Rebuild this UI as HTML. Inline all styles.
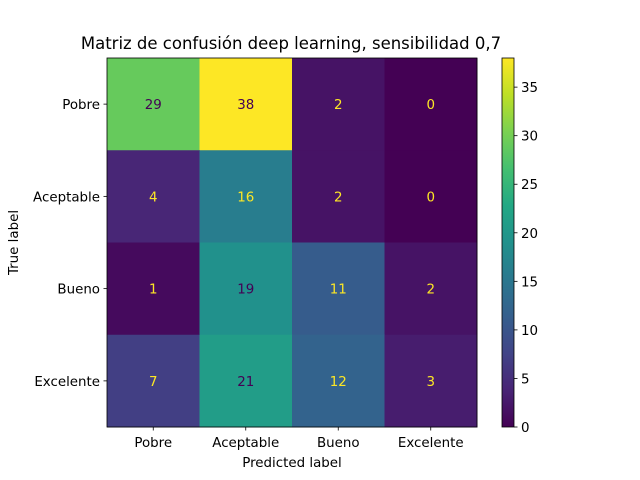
<!DOCTYPE html>
<html><head><meta charset="utf-8">
<style>
html,body{margin:0;padding:0;background:#fff;}
svg{display:block;font-family:"DejaVu Sans","Liberation Sans",sans-serif;}
</style></head>
<body>
<svg id="chart" width="640" height="480" viewBox="0 0 640 480">
<rect width="640" height="480" fill="#fff"/>
<text x="291" y="49" text-anchor="middle" font-size="16.5" fill="#000">Matriz de confusión deep learning, sensibilidad 0,7</text>
<g id="cells"></g>
<g id="axes"></g>
<g id="cbar"></g>
</svg>
<script>
const labels = ["Pobre","Aceptable","Bueno","Excelente"];
const matrix = [
  [29,38,2,0],
  [4,16,2,0],
  [1,19,11,2],
  [7,21,12,3]
];
const cbarTicks = [0,5,10,15,20,25,30,35];

const NS="http://www.w3.org/2000/svg";
const stops=["#440154","#482475","#414487","#355f8d","#2a788e","#21918c","#22a884","#44bf70","#7ad151","#bddf26","#fde725"];
function hex(h){return [1,3,5].map(i=>parseInt(h.substr(i,2),16));}
function viridis(t){t=Math.max(0,Math.min(1,t));const p=t*10,i=Math.min(9,Math.floor(p)),f=p-i;const a=hex(stops[i]),b=hex(stops[i+1]);return "rgb("+a.map((v,k)=>Math.round(v+(b[k]-v)*f)).join(",")+")";}
function el(tag,attrs,parent){const e=document.createElementNS(NS,tag);for(const k in attrs)e.setAttribute(k,attrs[k]);parent.appendChild(e);return e;}

const X0=107,X1=477,Y0=58,Y1=427;
const FS=13.4;
const n=labels.length;
const cw=(X1-X0)/n,ch=(Y1-Y0)/n;
const flat=matrix.flat();
const vmin=Math.min(...flat),vmax=Math.max(...flat);
const thresh=(vmin+vmax)/2;
const xPos=j=>X0+cw*(j+0.5), yPos=i=>Y0+ch*(i+0.5);

const cells=document.getElementById("cells");
matrix.forEach((row,i)=>row.forEach((v,j)=>{
  const r=el("rect",{x:X0+cw*j,y:Y0+ch*i,width:cw+0.5,height:ch+0.5,fill:viridis((v-vmin)/(vmax-vmin))},cells);
  
  
  const t=el("text",{x:xPos(j),y:yPos(i)+5,"text-anchor":"middle","font-size":FS,fill:v<thresh?stops[10]:stops[0]},cells);
  t.textContent=v;
  
  
}));

const axes=document.getElementById("axes");
el("rect",{x:X0,y:Y0,width:X1-X0,height:Y1-Y0,fill:"none",stroke:"#000","stroke-width":"0.8"},axes);
labels.forEach((l,k)=>{
  el("line",{x1:xPos(k),x2:xPos(k),y1:Y1,y2:Y1+3.5,stroke:"#000","stroke-width":"0.8"},axes);
  const tx=el("text",{x:xPos(k),y:Y1+20,"text-anchor":"middle","font-size":FS},axes);
  tx.textContent=l;
  
  
  el("line",{x1:X0-3.5,x2:X0,y1:yPos(k),y2:yPos(k),stroke:"#000","stroke-width":"0.8"},axes);
  const ty=el("text",{x:X0-7,y:yPos(k)+5,"text-anchor":"end","font-size":FS},axes);
  ty.textContent=l;
  
  
});
const xt=el("text",{x:(X0+X1)/2,y:467,"text-anchor":"middle","font-size":FS},axes);
xt.textContent="Predicted label";


const yt=el("text",{x:18,y:(Y0+Y1)/2,"text-anchor":"middle","font-size":FS,transform:"rotate(-90 18 "+((Y0+Y1)/2)+")"},axes);
yt.textContent="True label";



const cb=document.getElementById("cbar");
const CX=502,CW=12;
const defs=el("defs",{},cb);
const g=el("linearGradient",{id:"vg",x1:"0",y1:"1",x2:"0",y2:"0"},defs);
stops.forEach((c,k)=>el("stop",{offset:(k/10),"stop-color":c},g));
const cr=el("rect",{x:CX,y:Y0,width:CW,height:Y1-Y0,fill:"url(#vg)",stroke:"#000","stroke-width":"0.8"},cb);


const cy=v=>Y1-(v-vmin)/(vmax-vmin)*(Y1-Y0);
cbarTicks.forEach(v=>{
  el("line",{x1:CX+CW,x2:CX+CW+3.5,y1:cy(v),y2:cy(v),stroke:"#000","stroke-width":"0.8"},cb);
  const t=el("text",{x:CX+CW+7,y:cy(v)+5,"font-size":FS},cb);
  t.textContent=v;
  
  
});
</script>
</body></html>
